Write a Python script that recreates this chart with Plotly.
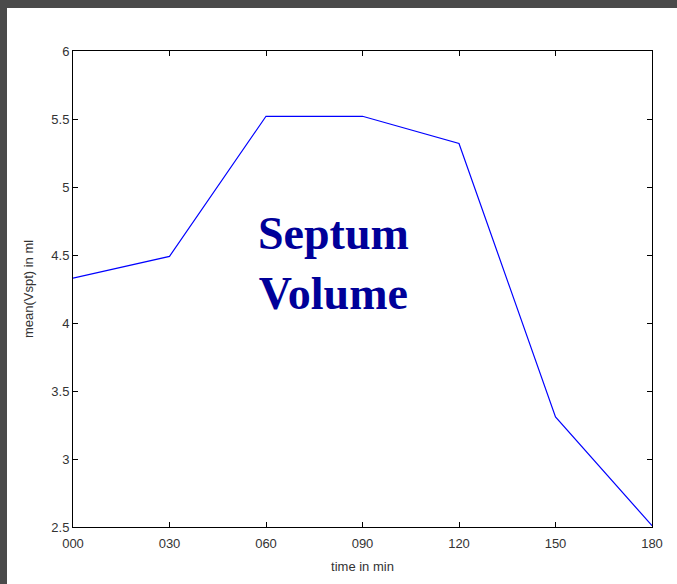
import plotly.graph_objects as go

time_min = [0, 30, 60, 90, 120, 150, 180]
mean_vspt = [4.33, 4.49, 5.52, 5.52, 5.32, 3.31, 2.51]
x_tick_vals = [0, 30, 60, 90, 120, 150, 180]
x_tick_text = ["000", "030", "060", "090", "120", "150", "180"]
y_tick_vals = [2.5, 3, 3.5, 4, 4.5, 5, 5.5, 6]
y_tick_text = ["2.5", "3", "3.5", "4", "4.5", "5", "5.5", "6"]

W, H = 677, 584
L, R, T, B = 73, 25, 51, 57
pw, ph = W - L - R, H - T - B

def px_x(x):
    return (x - L) / pw

def px_y(y):
    return 1 - (y - T) / ph

fig = go.Figure()
fig.add_trace(go.Scatter(x=time_min, y=mean_vspt, mode="lines",
                         line=dict(color="#0000ff", width=1.2),
                         showlegend=False, hoverinfo="skip"))

axis_common = dict(showgrid=False, zeroline=False, showline=True, linecolor="black",
                   linewidth=1, mirror="ticks", ticks="inside", ticklen=5,
                   tickcolor="black", tickwidth=1,
                   tickfont=dict(family="Liberation Sans, Arial", size=13, color="#333333"))

fig.update_xaxes(range=[0, 180], tickvals=x_tick_vals, ticktext=x_tick_text,
                 ticklabelstandoff=4,
                 title=dict(text="time in min", font=dict(family="Liberation Sans, Arial", size=13, color="#333333"), standoff=12),
                 **axis_common)
fig.update_yaxes(range=[2.5, 6], tickvals=y_tick_vals, ticktext=y_tick_text,
                 title=dict(text="mean(Vspt) in ml", font=dict(family="Liberation Sans, Arial", size=13, color="#333333"), standoff=14),
                 **axis_common)

frame_color = "#4a4a4a"
shapes = [
    dict(type="rect", xref="paper", yref="paper", x0=px_x(0), x1=px_x(W), y0=px_y(8), y1=px_y(0),
         fillcolor=frame_color, line=dict(width=0), layer="above"),
    dict(type="rect", xref="paper", yref="paper", x0=px_x(0), x1=px_x(7), y0=px_y(H), y1=px_y(0),
         fillcolor=frame_color, line=dict(width=0), layer="above"),
]

fig.update_layout(
    width=W, height=H,
    margin=dict(l=L, r=R, t=T, b=B),
    paper_bgcolor="white", plot_bgcolor="white",
    shapes=shapes,
    annotations=[dict(text="Septum<br>Volume", x=px_x(333), y=px_y(263), xref="paper", yref="paper",
                      showarrow=False, align="center",
                      font=dict(family="Liberation Serif, Times New Roman", size=46, color="#000099", weight="bold"))],
)

fig.write_html("out.html", config={"displayModeBar": False},
               post_script="document.body.style.margin='0';document.body.style.padding='0';")
